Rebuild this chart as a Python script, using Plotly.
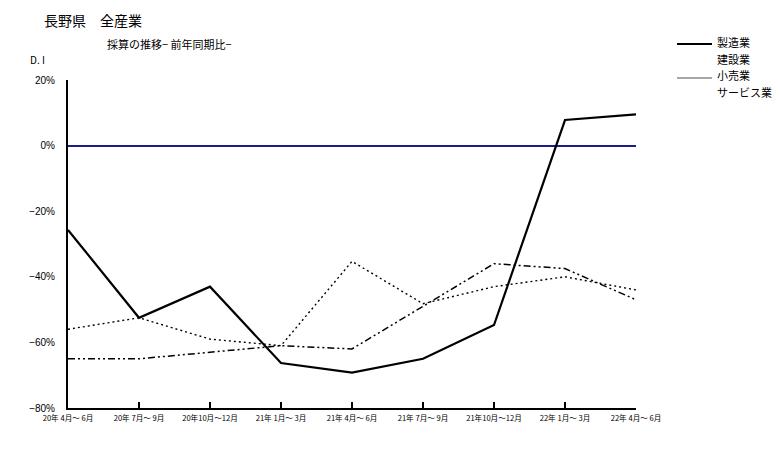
import plotly.graph_objects as go

categories = ["20年 4月〜 6月", "20年 7月〜 9月", "20年10月〜12月", "21年 1月〜 3月",
              "21年 4月〜 6月", "21年 7月〜 9月", "21年10月〜12月", "22年 1月〜 3月",
              "22年 4月〜 6月"]
seizo = [-25.7, -52.5, -43.0, -66.3, -69.2, -65.0, -54.7, 7.8, 9.5]
kensetsu = [-65.0, -65.0, -63.0, -61.0, -62.0, -49.0, -36.0, -37.5, -47.0]
kouri = [-56.0, -52.5, -59.0, -61.0, -35.3, -48.2, -43.0, -40.0, -44.0]
legend_names = ["製造業", "建設業", "小売業", "サービス業"]
y_ticks = [-80, -60, -40, -20, 0, 20]
y_ticktext = ["−80%", "−60%", "−40%", "−20%", "0%", "20%"]

# page body margin (8px) offsets the figure in the browser window
OFF = 8
W, H = 780 - OFF, 450 - OFF
L, R, T, B = 68 - OFF, 636 - OFF, 80 - OFF, 408 - OFF

def px(x):
    return (x - OFF - L) / (R - L)

def py(y):
    return (B - (y - OFF)) / (B - T)

FONT = "Noto Sans CJK JP, Liberation Sans, sans-serif"

fig = go.Figure()
fig.add_trace(go.Scatter(x=categories, y=kouri, mode="lines", name=legend_names[2],
                         line=dict(color="black", width=1.4, dash="2px,3px")))
fig.add_trace(go.Scatter(x=categories, y=kensetsu, mode="lines", name=legend_names[1],
                         line=dict(color="black", width=1.5, dash="7px,3px,2px,3px,2px,3px")))
fig.add_trace(go.Scatter(x=categories, y=seizo, mode="lines", name=legend_names[0],
                         line=dict(color="black", width=2.2)))

fig.update_layout(
    width=W, height=H,
    margin=dict(l=L, r=W - R, t=T, b=H - B),
    paper_bgcolor="white", plot_bgcolor="white",
    showlegend=False,
    font=dict(family=FONT, color="black"),
    xaxis=dict(type="category", range=[0, len(categories) - 1],
               showgrid=False, zeroline=False,
               showline=True, linecolor="black", linewidth=2,
               ticks="inside", ticklen=6, tickwidth=2, tickcolor="black",
               tickfont=dict(size=7.6, family=FONT), ticklabelstandoff=2),
    yaxis=dict(range=[-80, 20], tickvals=y_ticks, ticktext=y_ticktext,
               showgrid=False,
               zeroline=True, zerolinecolor="#1c1c8a", zerolinewidth=2,
               showline=True, linecolor="black", linewidth=2,
               ticks="", tickfont=dict(size=10, family="Liberation Sans"),
               ticklabelstandoff=9),
)

ann = [
    dict(text="長野県　全産業", x=px(42), y=py(20), size=14),
    dict(text="採算の推移− 前年同期比−", x=px(105), y=py(44), size=11),
    dict(text="D. I", x=px(28), y=py(59), size=10),
    dict(text=legend_names[0], x=px(715), y=py(42), size=11),
    dict(text=legend_names[1], x=px(715), y=py(59), size=11),
    dict(text=legend_names[2], x=px(715), y=py(75), size=11),
    dict(text=legend_names[3], x=px(715), y=py(92), size=11),
]
for a in ann:
    fig.add_annotation(text=a["text"], x=a["x"], y=a["y"], xref="paper", yref="paper",
                       xanchor="left", yanchor="middle", showarrow=False,
                       font=dict(size=a["size"], family=FONT, color="black"))

fig.add_shape(type="line", xref="paper", yref="paper", x0=px(677), x1=px(712),
              y0=py(44), y1=py(44), line=dict(color="black", width=2))
fig.add_shape(type="line", xref="paper", yref="paper", x0=px(677), x1=px(712),
              y0=py(78), y1=py(78), line=dict(color="#888888", width=1.5))

fig.write_html("out.html")
